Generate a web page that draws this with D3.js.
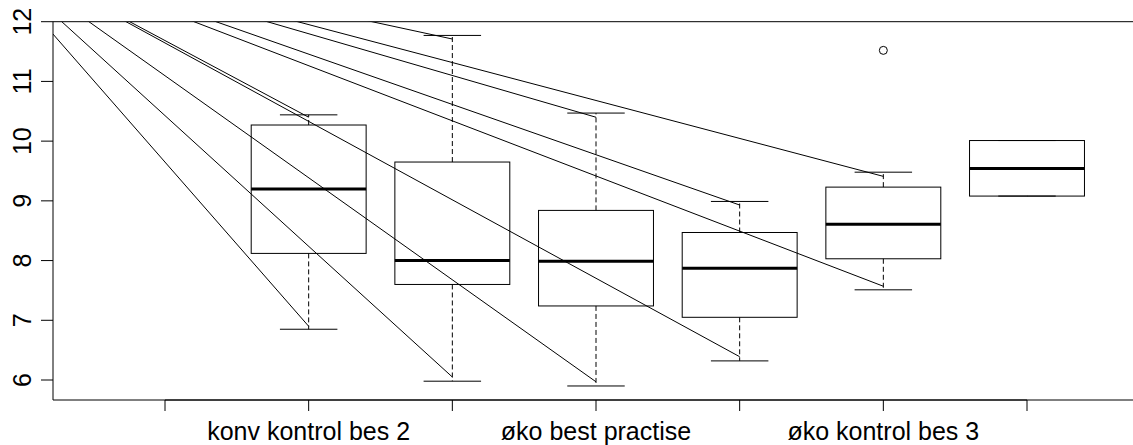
<!DOCTYPE html>
<html lang="en">
<head>
  <meta charset="utf-8">
  <title>Boxplot</title>
  <script src="https://d3js.org/d3.v7.min.js"></script>
  <style>
    body { margin: 0; background: #fff; }
    text { font-family: "Liberation Sans", Arial, sans-serif; fill: #000; }
  </style>
</head>
<body>
  <div id="my_dataviz"></div>

  <script>
    // tick labels (R drops the ones that would overlap, so only every other one shows)
    const tickLabels = ["", "konv kontrol bes 2", "", "øko best practise", "", "øko kontrol bes 3", ""]
    const yTicks = [6, 7, 8, 9, 10, 11, 12]

    // box statistics, one entry per box
    const positions = [1, 2, 3, 4, 5, 6]
    const lowerWhisker = [6.85, 5.98, 5.90, 6.32, 7.51, 9.08]
    const q1 = [8.12, 7.60, 7.24, 7.05, 8.03, 9.08]
    const median = [9.20, 8.00, 7.99, 7.87, 8.61, 9.54]
    const q3 = [10.27, 9.65, 8.84, 8.47, 9.23, 10.01]
    const upperWhisker = [10.44, 11.77, 10.47, 8.99, 9.48, 10.01]
    const outlierPos = [5]
    const outlierVal = [11.52]

    // the straight lines drawn over the plot, all from one point above the top left
    const lineFrom = [-1.39, 13.47]
    const linePos = [1, 2, 3, 4, 5]
    const lineEndLower = [6.90, 6.05, 5.97, 6.39, 7.57]
    const lineEndUpper = [10.40, 11.71, 10.40, 8.93, 9.41]

    const width = 1133, height = 445
    const plotLeft = 53, plotTop = 21.7, plotBottom = 400

    const svg = d3.select("#my_dataviz")
      .append("svg")
      .attr("width", width)
      .attr("height", height)

    const x = d3.scaleLinear().domain([0, 6]).range([165, 1027])
    const y = d3.scaleLinear().domain([6, 12]).range([380, 21.7])
    const boxW = x(0.8) - x(0)
    const capW = boxW / 2

    svg.append("clipPath").attr("id", "plotclip")
      .append("rect")
      .attr("x", plotLeft).attr("y", plotTop)
      .attr("width", width - plotLeft + 5).attr("height", plotBottom - plotTop)

    const boxes = positions.map((p, i) => ({
      p: p, lo: lowerWhisker[i], q1: q1[i], med: median[i], q3: q3[i], hi: upperWhisker[i]
    }))

    const g = svg.append("g")

    // whiskers (dashed)
    g.selectAll(".whiskLo").data(boxes).join("line")
      .attr("x1", d => x(d.p)).attr("x2", d => x(d.p))
      .attr("y1", d => y(d.q1)).attr("y2", d => y(d.lo))
      .attr("stroke", "#000").attr("stroke-dasharray", "5,3")
    g.selectAll(".whiskHi").data(boxes).join("line")
      .attr("x1", d => x(d.p)).attr("x2", d => x(d.p))
      .attr("y1", d => y(d.q3)).attr("y2", d => y(d.hi))
      .attr("stroke", "#000").attr("stroke-dasharray", "5,3")

    // staples
    g.selectAll(".capLo").data(boxes).join("line")
      .attr("x1", d => x(d.p) - capW / 2).attr("x2", d => x(d.p) + capW / 2)
      .attr("y1", d => y(d.lo)).attr("y2", d => y(d.lo))
      .attr("stroke", "#000")
    g.selectAll(".capHi").data(boxes).join("line")
      .attr("x1", d => x(d.p) - capW / 2).attr("x2", d => x(d.p) + capW / 2)
      .attr("y1", d => y(d.hi)).attr("y2", d => y(d.hi))
      .attr("stroke", "#000")

    // boxes
    g.selectAll("rect.box").data(boxes).join("rect")
      .attr("class", "box")
      .attr("x", d => x(d.p) - boxW / 2)
      .attr("width", boxW)
      .attr("y", d => y(d.q3))
      .attr("height", d => y(d.q1) - y(d.q3))
      .attr("fill", "none").attr("stroke", "#000")

    // medians
    g.selectAll(".med").data(boxes).join("line")
      .attr("x1", d => x(d.p) - boxW / 2).attr("x2", d => x(d.p) + boxW / 2)
      .attr("y1", d => y(d.med)).attr("y2", d => y(d.med))
      .attr("stroke", "#000").attr("stroke-width", 3)

    // outliers
    g.selectAll("circle").data(outlierPos).join("circle")
      .attr("cx", d => x(d)).attr("cy", (d, i) => y(outlierVal[i]))
      .attr("r", 4).attr("fill", "none").attr("stroke", "#000")

    // the long lines
    const segs = []
    linePos.forEach((p, i) => {
      segs.push([p, lineEndLower[i]])
      segs.push([p, lineEndUpper[i]])
    })
    svg.append("g").attr("clip-path", "url(#plotclip)")
      .selectAll("line").data(segs).join("line")
      .attr("x1", x(lineFrom[0])).attr("y1", y(lineFrom[1]))
      .attr("x2", d => x(d[0])).attr("y2", d => y(d[1]))
      .attr("stroke", "#000").attr("stroke-width", 1)

    // plot frame (right side runs off the picture)
    svg.append("path")
      .attr("d", `M${width + 5},${plotTop}H${plotLeft}V${plotBottom}H${width + 5}`)
      .attr("fill", "none").attr("stroke", "#000")

    // x axis
    const xa = svg.append("g")
    xa.append("line")
      .attr("x1", x(0)).attr("x2", x(6))
      .attr("y1", plotBottom).attr("y2", plotBottom).attr("stroke", "#000")
    xa.selectAll(".xt").data(tickLabels).join("line")
      .attr("x1", (d, i) => x(i)).attr("x2", (d, i) => x(i))
      .attr("y1", plotBottom).attr("y2", plotBottom + 11)
      .attr("stroke", "#000")
    xa.selectAll("text").data(tickLabels).join("text")
      .attr("x", (d, i) => x(i)).attr("y", 440)
      .attr("text-anchor", "middle")
      .style("font-size", "25px")
      .text(d => d)

    // y axis
    const ya = svg.append("g")
    ya.selectAll("line").data(yTicks).join("line")
      .attr("x1", plotLeft - 12).attr("x2", plotLeft)
      .attr("y1", d => y(d)).attr("y2", d => y(d))
      .attr("stroke", "#000")
    ya.selectAll("text").data(yTicks).join("text")
      .attr("transform", d => `translate(31,${y(d)}) rotate(-90)`)
      .attr("text-anchor", "middle")
      .style("font-size", "25px")
      .text(d => d)
  </script>
</body>
</html>
